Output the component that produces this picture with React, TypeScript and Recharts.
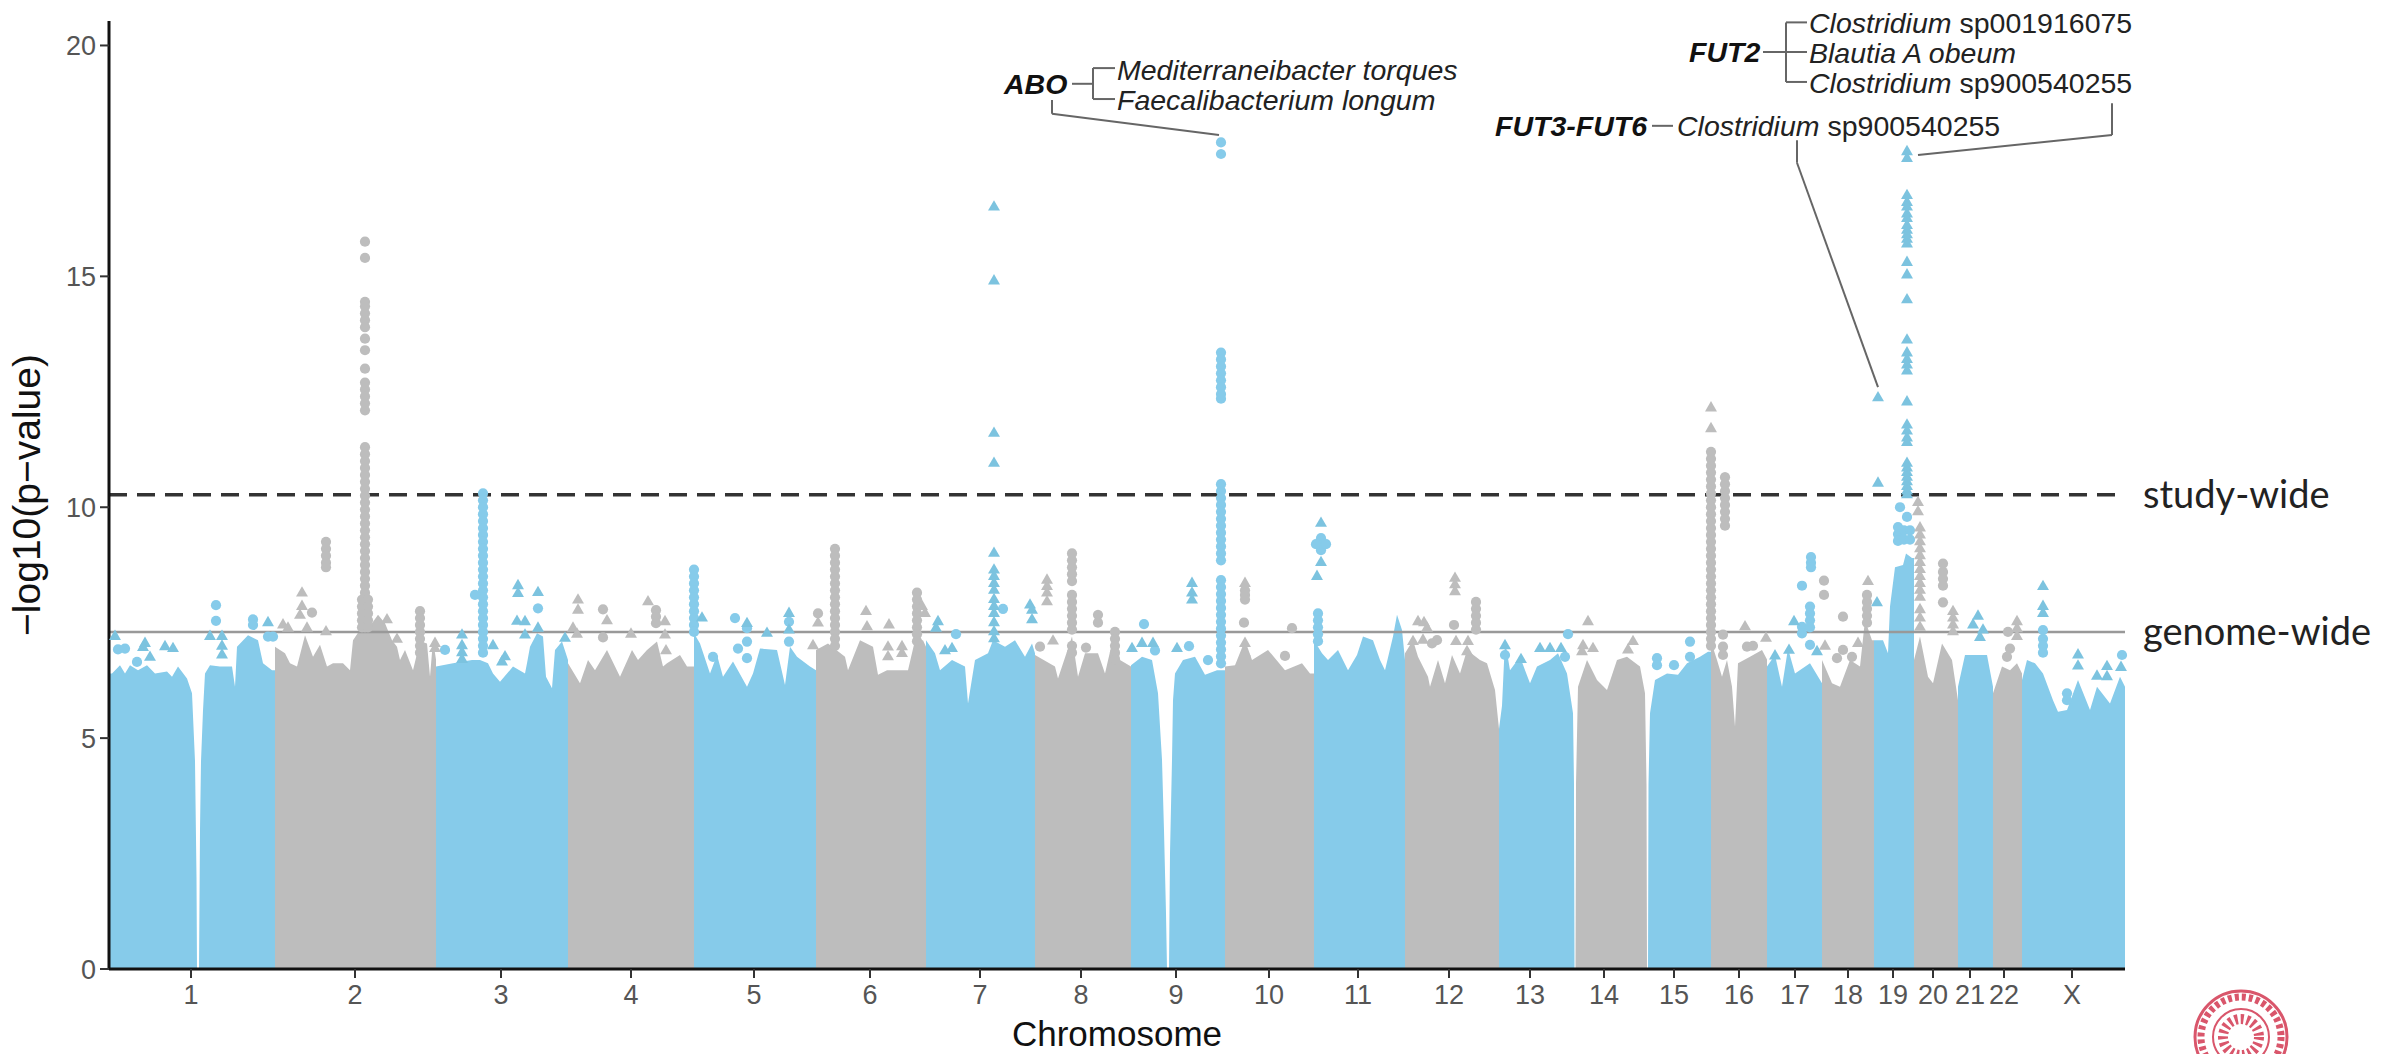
import React from "react";
import {
  Area,
  ComposedChart,
  ReferenceLine,
  Scatter,
  Symbols,
  XAxis,
  YAxis,
} from "recharts";

const FONT = '"Liberation Sans", Arial, sans-serif';
const BLUE = "#86cbea";
const GREY = "#bdbdbd";

const chromLabels = ["1", "2", "3", "4", "5", "6", "7", "8", "9", "10", "11", "12", "13", "14", "15", "16", "17", "18", "19", "20", "21", "22", "X"];
const chromTicks = [191, 355, 501, 631, 754, 870, 980, 1081, 1176, 1269, 1358, 1449, 1530, 1604, 1674, 1739, 1795, 1848, 1893, 1933, 1970, 2004, 2072];
const yTicks = [0, 5, 10, 15, 20];

const GENOME_WIDE = 7.3;
const STUDY_WIDE = 10.27;

type Pt = [number, number];

// upper edge of the solid mass per chromosome: [position, -log10 p]
const chr1: Pt[] = [[110, 6.4], [112, 6.4], [120, 6.58], [125, 6.4], [130, 6.58], [138, 6.47], [147, 6.58], [155, 6.4], [167, 6.44], [172, 6.33], [178, 6.55], [187, 6.29], [192, 5.97], [195, 4.5], [196.5, 2], [197, 0], [199, 0], [200, 3], [201, 4.5], [203, 5.6], [205, 6.4], [210, 6.58], [220, 6.55], [232, 6.55], [235, 6.11], [237, 6.98], [248, 7.23], [258, 7.12], [263, 6.62], [272, 6.47], [275, 6.47]];
const chr2: Pt[] = [[275, 6.98], [285, 6.84], [290, 6.62], [297, 6.55], [305, 7.23], [313, 6.76], [320, 7.02], [327, 6.55], [333, 6.62], [343, 6.62], [350, 6.47], [353, 7.12], [362, 7.41], [372, 7.49], [378, 7.67], [385, 7.49], [392, 7.12], [397, 6.98], [400, 6.69], [405, 6.91], [413, 6.47], [420, 7.1], [427, 7.05], [430, 6.33], [433, 7.12], [436, 6.7]];
const chr3: Pt[] = [[436, 6.55], [453, 6.62], [472, 6.69], [480, 6.69], [488, 6.62], [493, 6.4], [500, 6.22], [513, 6.55], [525, 6.4], [527, 6.62], [530, 6.98], [537, 7.27], [543, 7.2], [546, 6.33], [552, 6.08], [555, 6.91], [562, 7.09], [568, 6.69]];
const chr4: Pt[] = [[568, 6.62], [580, 6.19], [588, 6.69], [595, 6.47], [607, 6.91], [620, 6.33], [632, 6.91], [638, 6.69], [647, 6.91], [657, 7.09], [663, 6.55], [667, 6.62], [680, 6.8], [687, 6.55], [694, 6.55]];
const chr5: Pt[] = [[694, 7.27], [700, 7.05], [710, 6.4], [717, 6.8], [723, 6.33], [733, 6.66], [747, 6.11], [753, 6.4], [760, 6.94], [777, 6.91], [785, 6.15], [790, 6.98], [797, 6.76], [810, 6.55], [816, 6.47]];
const chr6: Pt[] = [[816, 6.91], [828, 7.05], [845, 6.76], [848, 6.47], [860, 7.12], [873, 6.98], [878, 6.37], [887, 6.47], [908, 6.47], [915, 7.12], [923, 7.12], [926, 6.98]];
const chr7: Pt[] = [[926, 7.12], [935, 6.84], [940, 6.47], [952, 6.69], [965, 6.55], [968, 5.75], [975, 6.69], [988, 6.84], [993, 7.12], [1005, 6.98], [1015, 7.12], [1025, 6.76], [1032, 7.05], [1035, 6.84]];
const chr8: Pt[] = [[1035, 6.8], [1055, 6.55], [1058, 6.29], [1072, 7.2], [1078, 6.33], [1085, 6.84], [1098, 6.84], [1105, 6.4], [1115, 7.34], [1120, 6.69], [1131, 6.55]];
const chr9: Pt[] = [[1131, 6.58], [1142, 6.76], [1152, 6.69], [1158, 5.97], [1162, 4.53], [1164, 3], [1166, 1.2], [1167, 0], [1169, 0], [1170, 2.5], [1172, 4.53], [1173, 5.82], [1175, 6.4], [1183, 6.69], [1195, 6.76], [1205, 6.37], [1217, 6.47], [1225, 6.47]];
const chr10: Pt[] = [[1225, 6.55], [1235, 6.58], [1245, 7.12], [1252, 6.69], [1268, 6.91], [1285, 6.47], [1302, 6.62], [1310, 6.4], [1314, 6.4]];
const chr11: Pt[] = [[1314, 7.12], [1322, 6.84], [1328, 6.69], [1338, 6.91], [1348, 6.47], [1357, 6.8], [1363, 7.2], [1373, 7.12], [1380, 6.69], [1385, 6.47], [1393, 7.2], [1397, 7.67], [1402, 7.34], [1405, 6.69]];
const chr12: Pt[] = [[1405, 6.84], [1413, 7.12], [1418, 6.76], [1428, 6.33], [1430, 6.11], [1438, 6.69], [1445, 6.19], [1452, 6.8], [1460, 6.4], [1467, 6.91], [1480, 6.69], [1487, 6.62], [1495, 6.04], [1499, 5.2]];
const chr13: Pt[] = [[1499, 5.2], [1502, 5.7], [1505, 7.12], [1510, 6.47], [1520, 6.76], [1530, 6.19], [1537, 6.55], [1550, 6.69], [1558, 6.84], [1567, 6.4], [1573, 5.54], [1574, 4], [1574.5, 0]];
const chr14: Pt[] = [[1575.5, 0], [1576, 4], [1578, 6.11], [1587, 6.69], [1597, 6.26], [1607, 6.04], [1617, 6.69], [1627, 6.76], [1640, 6.55], [1645, 5.97], [1646.5, 4], [1647, 0]];
const chr15: Pt[] = [[1648, 0], [1648.5, 4], [1650, 5.54], [1655, 6.26], [1667, 6.4], [1678, 6.37], [1687, 6.62], [1700, 6.76], [1708, 6.87], [1711, 6.87]];
const chr16: Pt[] = [[1711, 7.1], [1717, 6.69], [1722, 6.33], [1727, 6.69], [1732, 6.11], [1735, 5.25], [1738, 6.62], [1750, 6.76], [1762, 6.91], [1767, 6.7]];
const chr17: Pt[] = [[1767, 6.55], [1775, 6.8], [1782, 6.11], [1788, 6.94], [1795, 6.4], [1810, 6.62], [1822, 6.19]];
const chr18: Pt[] = [[1822, 6.69], [1832, 6.19], [1840, 6.11], [1850, 6.69], [1860, 6.55], [1865, 7.56], [1872, 7.12], [1874, 7.12]];
const chr19: Pt[] = [[1874, 7.12], [1883, 7.12], [1888, 6.84], [1890, 7.85], [1895, 8.7], [1903, 8.75], [1906, 9], [1912, 8.9], [1914, 8.9]];
const chr20: Pt[] = [[1914, 6.69], [1920, 7.2], [1928, 6.33], [1933, 6.19], [1942, 7.05], [1952, 6.69], [1958, 5.82]];
const chr21: Pt[] = [[1958, 6.11], [1965, 6.8], [1987, 6.8], [1993, 6.11]];
const chr22: Pt[] = [[1993, 5.97], [2002, 6.55], [2010, 6.47], [2017, 6.62], [2022, 6.4]];
const chrX: Pt[] = [[2022, 6.26], [2027, 6.69], [2035, 6.62], [2043, 6.4], [2053, 5.82], [2058, 5.57], [2067, 5.61], [2078, 6.26], [2090, 5.61], [2097, 6.11], [2110, 5.75], [2120, 6.33], [2125, 6.11]];

const chromosomes = [chr1, chr2, chr3, chr4, chr5, chr6, chr7, chr8, chr9, chr10, chr11, chr12, chr13, chr14, chr15, chr16, chr17, chr18, chr19, chr20, chr21, chr22, chrX];

// loose hits above the mass: [position, values at that position]
type Hits = [number, number[]][];

const blueCircles: Hits = [
  [216, [7.88, 7.54]], [118, [6.92]], [125, [6.94]], [137, [6.65]], [253, [7.57, 7.45]], [268, [7.2]], [273, [7.2]],
  [483, [10.3, 10.15, 10.0, 9.85, 9.7, 9.55, 9.4, 9.25, 9.1, 8.95, 8.8, 8.65, 8.5, 8.35, 8.2, 8.05, 7.9, 7.75, 7.6, 7.45, 7.3, 7.15, 7.0, 6.85]],
  [475, [8.1]], [445, [6.91]], [538, [7.81]],
  [694, [8.65, 8.5, 8.35, 8.2, 8.05, 7.9, 7.75, 7.6, 7.45, 7.3]],
  [735, [7.6]], [747, [7.38, 7.09, 6.73]], [738, [6.94]], [713, [6.76]], [789, [7.52, 7.09]],
  [1003, [7.8]], [956, [7.25]], [1144, [7.47]], [1155, [6.9]], [1189, [6.99]], [1208, [6.69]],
  [1221, [17.9, 17.65, 13.35, 13.2, 13.05, 12.9, 12.75, 12.6, 12.45, 12.35, 10.5, 10.35, 10.2, 10.05, 9.9, 9.75, 9.6, 9.45, 9.3, 9.15, 9.0, 8.85, 8.42, 8.27, 8.12, 7.97, 7.82, 7.67, 7.52, 7.37, 7.22, 7.07, 6.92, 6.77, 6.62]],
  [1321, [9.33, 9.2, 9.07]], [1316, [9.2]], [1326, [9.2]], [1318, [7.7, 7.55, 7.4, 7.25, 7.1]],
  [1505, [6.8]], [1565, [6.76]], [1568, [7.25]], [1657, [6.73, 6.58]], [1674, [6.58]], [1690, [7.09, 6.76]],
  [1811, [8.92, 8.8, 8.7]], [1802, [8.3, 7.41, 7.27]], [1810, [7.85, 7.7, 7.55, 7.4, 7.02]],
  [1900, [10.0]], [1907, [9.79]], [1898, [9.57, 9.42, 9.27]], [1904, [9.5, 9.3]], [1910, [9.5, 9.3]],
  [2043, [7.34, 7.15, 7.0, 6.85]], [2122, [6.8]], [2067, [5.97, 5.82]],
];

const blueTriangles: Hits = [
  [115, [7.2]], [145, [7.05]], [143, [6.96]], [165, [6.98]], [173, [6.94]], [150, [6.75]], [210, [7.2]], [222, [7.2, 6.99, 6.8]], [268, [7.5]],
  [462, [7.23, 7.0, 6.85, 6.7]], [493, [7.0]], [518, [8.3, 8.13]], [517, [7.53]], [505, [6.76]], [502, [6.65]],
  [538, [8.15, 7.38]], [525, [7.52, 7.23]], [565, [7.16]], [702, [7.6]], [747, [7.48]], [767, [7.27]], [789, [7.7, 7.34]],
  [994, [16.5, 14.9, 11.6, 10.95, 9.0, 8.64, 8.5, 8.35, 8.2, 8.0, 7.85, 7.7, 7.5, 7.3, 7.15]],
  [938, [7.52]], [936, [7.38]], [952, [6.94]], [945, [6.89]], [1030, [7.88]], [1032, [7.77, 7.56]],
  [1142, [7.05]], [1132, [6.94]], [1153, [7.05]], [1192, [8.35, 8.14, 7.99]], [1177, [6.94]],
  [1321, [9.65, 8.8]], [1317, [8.5]],
  [1505, [7.0]], [1521, [6.7]], [1540, [6.94]], [1550, [6.94]], [1561, [6.94]],
  [1775, [6.78]], [1789, [6.9]], [1794, [7.52]], [1817, [6.87]], [1877, [7.93]], [1878, [12.37, 10.52]],
  [1907, [17.7, 17.55, 16.75, 16.6, 16.5, 16.35, 16.25, 16.1, 16.0, 15.9, 15.8, 15.7, 15.3, 15.03, 14.49, 13.62, 13.34, 13.2, 13.08, 12.95, 12.28, 11.78, 11.65, 11.5, 11.4, 10.95, 10.85, 10.75, 10.65, 10.55, 10.45, 10.35, 10.27]],
  [1978, [7.64]], [1973, [7.45]], [1983, [7.34]], [1980, [7.18]],
  [2043, [8.28, 7.85, 7.7]], [2078, [6.8, 6.56]], [2107, [6.55, 6.33]], [2121, [6.53]], [2097, [6.34]],
];

const greyCircles: Hits = [
  [365, [15.75, 15.4, 14.45, 14.35, 14.2, 14.05, 13.9, 13.65, 13.4, 13.0, 12.7, 12.55, 12.4, 12.25, 12.1, 11.3, 11.15, 11.0, 10.85, 10.7, 10.55, 10.4, 10.25, 10.1, 9.95, 9.8, 9.65, 9.5, 9.35, 9.2, 9.05, 8.9, 8.75, 8.6, 8.45, 8.3, 8.15, 8.0, 7.85, 7.7, 7.55, 7.4]],
  [362, [8.0, 7.85, 7.7, 7.55, 7.4]], [368, [8.0, 7.85, 7.7, 7.55, 7.4]],
  [312, [7.72]], [326, [9.25, 9.1, 8.95, 8.8, 8.7]], [420, [7.75, 7.6, 7.45, 7.3, 7.15, 7.0, 6.85]],
  [603, [7.79, 7.18]], [656, [7.77, 7.63, 7.49]], [818, [7.7]],
  [835, [9.1, 8.95, 8.8, 8.65, 8.5, 8.35, 8.2, 8.05, 7.9, 7.75, 7.6, 7.45, 7.3, 7.15, 7.0]],
  [917, [8.15, 8.0, 7.85, 7.7, 7.55, 7.4, 7.25, 7.1]],
  [1040, [6.98]],
  [1072, [9.0, 8.85, 8.7, 8.55, 8.4, 8.1, 7.95, 7.8, 7.65, 7.5, 7.35, 7.0, 6.85]],
  [1098, [7.67, 7.5]], [1086, [6.96]], [1115, [7.3, 7.15, 7.0, 6.85, 6.7]],
  [1245, [8.2, 8.1, 8.0]], [1244, [7.5]], [1292, [7.38]], [1285, [6.78]], [1454, [7.45]],
  [1476, [7.95, 7.8, 7.65, 7.5, 7.35]], [1432, [7.05]], [1437, [7.12]],
  [1711, [11.2, 11.05, 10.9, 10.75, 10.6, 10.45, 10.3, 10.15, 10.0, 9.85, 9.7, 9.55, 9.4, 9.25, 9.1, 8.95, 8.8, 8.65, 8.5, 8.35, 8.2, 8.05, 7.9, 7.75, 7.6, 7.45, 7.3, 7.15, 7.0]],
  [1725, [10.65, 10.5, 10.35, 10.2, 10.05, 9.9, 9.75, 9.6]],
  [1723, [7.24, 6.98, 6.8]], [1747, [6.98]], [1753, [7.0]],
  [1824, [8.41, 8.1]], [1843, [7.63, 6.91]], [1837, [6.73]], [1852, [6.76]], [1867, [8.1, 7.95, 7.8, 7.65, 7.5]],
  [1943, [8.78, 8.6, 8.45, 8.3, 7.94]], [2008, [7.3]], [2010, [6.94]], [2007, [6.76]],
];

const greyTriangles: Hits = [
  [302, [8.14, 7.85]], [300, [7.66]], [283, [7.45]], [288, [7.38]], [307, [7.38]], [326, [7.3]], [387, [7.56]], [397, [7.14]], [435, [7.05, 6.94]],
  [578, [7.99, 7.77]], [607, [7.54]], [573, [7.38]], [577, [7.25]], [631, [7.25]], [648, [7.95]], [665, [7.52, 7.23]], [666, [6.89]],
  [818, [7.49]], [813, [7.0]], [866, [7.74]], [867, [7.41]], [889, [7.45]], [888, [6.97, 6.76]], [902, [6.98, 6.83]], [922, [7.85]], [925, [7.7]],
  [1047, [8.42, 8.28, 8.14, 7.95]], [1053, [7.1]], [1245, [8.35, 7.05, 6.84]], [1455, [8.46, 8.32, 8.17]],
  [1418, [7.52]], [1424, [7.5]], [1427, [7.38]], [1413, [7.09]], [1423, [7.12]], [1456, [7.09]], [1468, [7.09]], [1467, [6.87]],
  [1588, [7.52]], [1583, [7.0]], [1582, [6.87]], [1593, [6.94]], [1633, [7.09]], [1628, [6.91]],
  [1711, [12.15, 11.7]], [1745, [7.41]], [1766, [7.16]], [1825, [6.99]], [1868, [8.39]], [1858, [7.05]],
  [1918, [10.1, 9.9]], [1920, [9.55, 9.4, 9.25, 9.1, 8.95, 8.8, 8.65, 8.5, 8.35, 8.2, 8.05, 7.78, 7.6, 7.4]],
  [1953, [7.74, 7.6, 7.45, 7.3]], [2017, [7.52, 7.37, 7.2]],
];

// leader lines of the gene call-outs, in chart coordinates
const leaders: Pt[][] = [
  [[1072, 19.17], [1093, 19.17]],
  [[1093, 19.51], [1093, 18.84]],
  [[1093, 19.51], [1115, 19.51]],
  [[1093, 18.84], [1115, 18.84]],
  [[1052, 18.82], [1052, 18.52]],
  [[1052, 18.52], [1219, 18.06]],
  [[1763, 19.86], [1807, 19.86]],
  [[1786, 20.5], [1786, 19.21]],
  [[1786, 20.5], [1807, 20.5]],
  [[1786, 19.21], [1807, 19.21]],
  [[1652, 18.26], [1673, 18.26]],
  [[1797, 17.95], [1797, 17.46]],
  [[1797, 17.46], [1878, 12.6]],
  [[2112, 18.75], [2112, 18.06]],
  [[2112, 18.06], [1918, 17.63]],
];

const rows = chromosomes.flatMap((pts, i) =>
  pts.map(([x, y]) => ({ x, [i % 2 === 0 ? "blue" : "grey"]: y })),
);

const toPoints = (hits: Hits) => hits.flatMap(([x, ys]) => ys.map((y) => ({ x, y })));

const circleMark = (fill: string) => (p: any) =>
  <Symbols cx={p.cx} cy={p.cy} type="circle" size={82} fill={fill} />;
const triangleMark = (fill: string) => (p: any) =>
  <Symbols cx={p.cx} cy={p.cy} type="triangle" size={62} fill={fill} />;

const geneStyle = { fontFamily: FONT, fontSize: 28.5, fontStyle: "italic", fontWeight: 700, fill: "#111" } as const;
const taxonStyle = { fontFamily: FONT, fontSize: 28.5, fontStyle: "italic", fill: "#222" } as const;
const plainStyle = { fontStyle: "normal" } as const;
const sideStyle = { fontFamily: "Lato, sans-serif", fontSize: 38, fill: "#222" } as const;

export default function App() {
  return (
    <div style={{ position: "absolute", left: 0, top: 0, width: 2381, height: 1054, background: "#fff", overflow: "hidden" }}>
      <ComposedChart
        width={2381}
        height={1054}
        data={rows}
        margin={{ top: 21, right: 256, bottom: 0, left: 0 }}
      >
        <XAxis
          dataKey="x"
          type="number"
          domain={[109, 2125]}
          ticks={chromTicks}
          interval={0}
          height={85}
          tickFormatter={(v: number) => chromLabels[chromTicks.indexOf(v)]}
          tick={{ fontSize: 27, fill: "#555", fontFamily: FONT }}
          tickSize={9}
          tickMargin={7}
          axisLine={{ stroke: "#111", strokeWidth: 3 }}
          tickLine={{ stroke: "#333", strokeWidth: 2 }}
          label={{ value: "Chromosome", position: "insideBottom", offset: 8, style: { fontSize: 35, fontFamily: FONT, fill: "#111" } }}
        />
        <YAxis
          type="number"
          width={109}
          domain={[0, 20.53]}
          ticks={yTicks}
          interval={0}
          allowDataOverflow
          tick={{ fontSize: 27, fill: "#555", fontFamily: FONT }}
          tickSize={9}
          tickMargin={4}
          axisLine={{ stroke: "#111", strokeWidth: 3 }}
          tickLine={{ stroke: "#333", strokeWidth: 2 }}
          label={{ value: "−log10(p−value)", angle: -90, position: "insideLeft", offset: 26, style: { textAnchor: "middle", fontSize: 39, fontFamily: FONT, fill: "#111" } }}
        />
        <Area dataKey="blue" type="linear" fill={BLUE} fillOpacity={1} stroke="none" isAnimationActive={false} connectNulls={false} dot={false} activeDot={false} />
        <Area dataKey="grey" type="linear" fill={GREY} fillOpacity={1} stroke="none" isAnimationActive={false} connectNulls={false} dot={false} activeDot={false} />
        <Scatter data={toPoints(blueCircles)} dataKey="y" isAnimationActive={false} shape={circleMark(BLUE)} />
        <Scatter data={toPoints(blueTriangles)} dataKey="y" isAnimationActive={false} shape={triangleMark("#7cc3df")} />
        <Scatter data={toPoints(greyCircles)} dataKey="y" isAnimationActive={false} shape={circleMark(GREY)} />
        <Scatter data={toPoints(greyTriangles)} dataKey="y" isAnimationActive={false} shape={triangleMark(GREY)} />
        <ReferenceLine y={GENOME_WIDE} stroke="#999" strokeWidth={2.5} />
        <ReferenceLine y={STUDY_WIDE} stroke="#333" strokeWidth={3.5} strokeDasharray="18 10" />
        {leaders.map((seg, i) => (
          <ReferenceLine
            key={i}
            segment={[{ x: seg[0][0], y: seg[0][1] }, { x: seg[1][0], y: seg[1][1] }]}
            stroke="#666"
            strokeWidth={2}
            ifOverflow="visible"
          />
        ))}
      </ComposedChart>

      <svg width={2381} height={1054} style={{ position: "absolute", left: 0, top: 0, pointerEvents: "none" }}>
        <g dominantBaseline="central">
          <text x={1004} y={84} {...geneStyle}>ABO</text>
          <text x={1117} y={70} {...taxonStyle}>Mediterraneibacter torques</text>
          <text x={1117} y={100} {...taxonStyle}>Faecalibacterium longum</text>
          <text x={1689} y={52} {...geneStyle}>FUT2</text>
          <text x={1809} y={23} {...taxonStyle}>Clostridium<tspan {...plainStyle}> sp001916075</tspan></text>
          <text x={1809} y={53} {...taxonStyle}>Blautia A obeum</text>
          <text x={1809} y={83} {...taxonStyle}>Clostridium<tspan {...plainStyle}> sp900540255</tspan></text>
          <text x={1495} y={126} {...geneStyle}>FUT3-FUT6</text>
          <text x={1677} y={126} {...taxonStyle}>Clostridium<tspan {...plainStyle}> sp900540255</tspan></text>
          <text x={2143} y={493} {...sideStyle}>study-wide</text>
          <text x={2143} y={630} {...sideStyle}>genome-wide</text>
        </g>
        <g fill="none" stroke="#d9566b">
          <circle cx={2241} cy={1037} r={46} strokeWidth={3} />
          <circle cx={2241} cy={1037} r={40} strokeWidth={7} strokeDasharray="4 3" />
          <circle cx={2241} cy={1037} r={28} strokeWidth={2} />
          <circle cx={2241} cy={1037} r={18} strokeWidth={10} strokeDasharray="3 3" />
        </g>
      </svg>
    </div>
  );
}
